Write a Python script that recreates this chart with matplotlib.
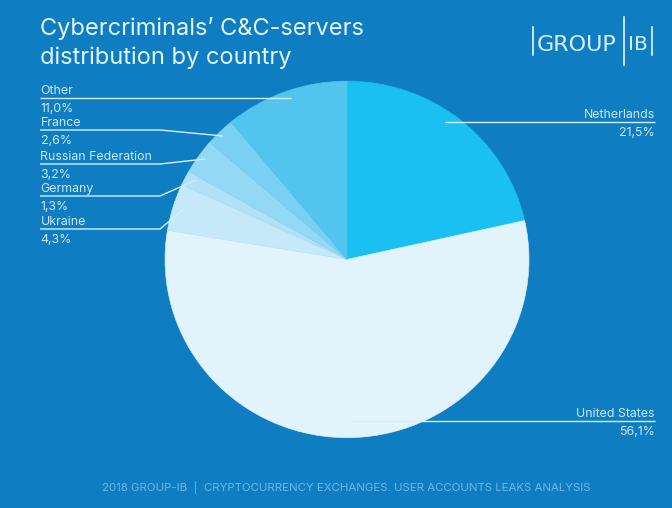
import matplotlib
matplotlib.use('Agg')
import matplotlib.pyplot as plt

countries = ['Netherlands', 'United States', 'Ukraine', 'Germany', 'Russian Federation', 'France', 'Other']
shares = [21.5, 56.1, 4.3, 1.3, 3.2, 2.6, 11.0]
share_labels = ['21,5%', '56,1%', '4,3%', '1,3%', '3,2%', '2,6%', '11,0%']
slice_colors = ['#1ac0f2', '#e1f3fb', '#c6e9f9', '#b0e1f7', '#93d8f5', '#7ad0f3', '#52c5ef']

BG = '#0f7dc2'
TEXT = '#cdeaf8'
H = 508


def py(y):
  # picture coords have y going down
  return H - y


plt.rcParams['font.family'] = ['Inter', 'DejaVu Sans']

fig = plt.figure(figsize=(6.72, 5.08), dpi=100, facecolor=BG)

# pie is a touch wider than tall in the reference, so it gets its own axes
pie_ax = fig.add_axes([(347 - 182) / 672, (H - 259.4 - 178.3) / H, 364 / 672, 356.6 / H])
wedges, _ = pie_ax.pie(shares, colors=slice_colors, startangle=90, counterclock=False, radius=1)
for wedge, color in zip(wedges, slice_colors):
  # same colour edge hides the seams between slices
  wedge.set_edgecolor(color)
  wedge.set_linewidth(0.4)
pie_ax.set_aspect('auto')
pie_ax.set_xlim(-1, 1)
pie_ax.set_ylim(-1, 1)
pie_ax.axis('off')

ax = fig.add_axes([0, 0, 1, 1])
ax.patch.set_alpha(0)
ax.set_xlim(0, 672)
ax.set_ylim(0, H)
ax.axis('off')

# leader lines, label on top of the line and value under it
left_lines = {
  'Other': [(40, 98), (291, 98)],
  'France': [(40, 130), (160, 130), (223, 136)],
  'Russian Federation': [(40, 164), (160, 164), (205, 159)],
  'Germany': [(40, 196), (160, 196), (196, 180)],
  'Ukraine': [(40, 229), (160, 229), (184, 209)],
}
right_lines = {
  'Netherlands': [(445, 122), (655, 122)],
  'United States': [(352, 421), (655, 421)],
}

for name, pts in left_lines.items():
  ax.plot([p[0] for p in pts], [py(p[1]) for p in pts], color='#d5eefa', lw=1, solid_capstyle='butt')
  i = countries.index(name)
  y = pts[0][1]
  ax.text(40.5, py(y - 1), name, color=TEXT, fontsize=8.9, ha='left', va='bottom')
  ax.text(40.5, py(y + 5), share_labels[i], color=TEXT, fontsize=8.9, ha='left', va='top')

for name, pts in right_lines.items():
  ax.plot([p[0] for p in pts], [py(p[1]) for p in pts], color='#d5eefa', lw=1, solid_capstyle='butt')
  i = countries.index(name)
  y = pts[0][1]
  ax.text(655, py(y - 1), name, color=TEXT, fontsize=8.9, ha='right', va='bottom')
  ax.text(655, py(y + 5), share_labels[i], color=TEXT, fontsize=8.9, ha='right', va='top')

# title
ax.text(40, py(28), 'Cybercriminals\u2019 C&C-servers', color='#e6f5fc', fontsize=17, ha='left', va='center')
ax.text(40, py(58), 'distribution by country', color='#e6f5fc', fontsize=17, ha='left', va='center')

# logo
logo_bars = [(533, 27, 55), (624, 17, 65), (652, 27, 55)]
for x, y0, y1 in logo_bars:
  ax.plot([x, x], [py(y0), py(y1)], color='#e6f5fc', lw=1.2)
ax.text(537, py(45), 'GROUP', color='#d5eefa', fontsize=16, ha='left', va='center', fontfamily='DejaVu Sans')
ax.text(628, py(45), 'IB', color='#d5eefa', fontsize=14.5, ha='left', va='center', fontfamily='DejaVu Sans')

# footer
ax.text(346, py(487), '2018 GROUP-IB  |  CRYPTOCURRENCY EXCHANGES. USER ACCOUNTS LEAKS ANALYSIS',
        color='#6db8e3', fontsize=8.25, ha='center', va='center')

fig.savefig('out.png', dpi=100, facecolor=BG)
